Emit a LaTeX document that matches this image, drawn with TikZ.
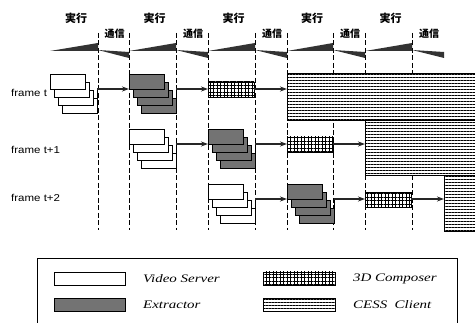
\documentclass[tikz,border=0pt]{standalone}
\usepackage{fontspec}
\setmainfont{Liberation Serif}
\setsansfont{Liberation Sans}
\newfontfamily\jpfont{Noto Sans CJK JP}
\newfontfamily\legfont{Liberation Serif}[FakeStretch=1.3]
\newfontfamily\rowfont{Liberation Sans}[FakeStretch=1.15]
\usetikzlibrary{arrows.meta,positioning,patterns.meta}

\begin{document}
\begin{tikzpicture}[x=1pt,y=-1pt,
    vsbox/.style={draw,fill=white,line width=0.6pt,minimum width=35pt,minimum height=15pt,inner sep=0pt,outer sep=0pt,anchor=north west},
    exbox/.style={vsbox,fill=black!55},
    cpbox/.style={draw,line width=0.6pt,preaction={fill=white},pattern={Hatch[angle=0,distance=3.5pt,line width=0.5pt]},minimum width=46pt,minimum height=15pt,inner sep=0pt,outer sep=0pt,anchor=west},
    csbox/.style={draw,line width=0.6pt,preaction={fill=white},pattern={Lines[angle=0,distance=3pt,line width=0.9pt]},inner sep=0pt,outer sep=0pt,anchor=north west},
    flow/.style={line width=1.3pt,black!85,-{Stealth[length=7pt,width=5pt]}},
    phase/.style={dash pattern=on 5pt off 2.5pt,line width=0.7pt},
    wedge/.style={fill=black!80},
    rowlab/.style={font=\rowfont\fontsize{10}{12}\selectfont,inner sep=0pt,anchor=west},
    legtext/.style={font=\legfont\itshape\fontsize{11.5}{13}\selectfont,inner sep=0pt,anchor=west}]
  \useasboundingbox (0,0) rectangle (475,323);

  % phase boundaries
  \foreach \x in {98,129,176,208,255,287,333,365,412}
    \draw[phase] (\x,33) -- (\x,230);

  % execution / communication wedges
  \foreach \s/\e/\c in {50/98/129,129/176/208,208/255/287,287/333/365,365/412/444}{
    \fill[wedge] (\s,51) -- (\e,43) -- (\e,51) -- cycle;
    \fill[wedge] (\e,50) -- (\c,52) -- (\c,58) -- cycle;
    \node[font=\jpfont\bfseries\fontsize{11}{13}\selectfont,inner sep=0pt] (run\s) at ({(\s+\e)/2+2},18) {実行};
    \node[font=\jpfont\bfseries\fontsize{10}{12}\selectfont,inner sep=0pt] (comm\s) at ({(\e+\c)/2+1},34) {通信};
  }

  % CESS client blocks
  \node[csbox,minimum width=191pt,minimum height=47pt] (cs0) at (287,73) {};
  \node[csbox,minimum width=113pt,minimum height=55pt] (cs1) at (365,120) {};
  \node[csbox,minimum width=34pt,minimum height=56pt] (cs2) at (444,175) {};

  % one frame per row
  \foreach \r/\sa/\sb/\sc in {0/50/129/208,1/129/208/287,2/208/287/365}{
    \pgfmathsetmacro\rowy{74+55*\r}
    \foreach \k in {3,2,1,0}
      \node[vsbox] (vs\r-\k) at (\sa+4*\k,\rowy+8*\k) {};
    \foreach \k in {3,2,1,0}
      \node[exbox] (ex\r-\k) at (\sb+4*\k,\rowy+8*\k) {};
    \node[cpbox] (cp\r) at (\sc,\rowy+15.5) {};
    \draw[line width=0.6pt] (vs\r-3.north east) -- (vs\r-0.south -| vs\r-3.east);
    \draw[line width=0.6pt] (ex\r-3.north east) -- (ex\r-0.south -| ex\r-3.east);
    \draw[flow] (vs\r-0.south -| vs\r-3.east) -- (ex\r-0.south west);
    \draw[flow] (ex\r-0.south -| ex\r-3.east) -- (cp\r.west |- ex\r-0.south);
    \draw[flow] (cp\r.east |- ex\r-0.south) -- (cs\r.west |- ex\r-0.south);
  }

  \node[rowlab] (lt0) at (11,93) {frame t};
  \node[rowlab] (lt1) at (11,150) {frame t+1};
  \node[rowlab] (lt2) at (11,198) {frame t+2};

  % legend
  \node[draw,line width=0.8pt,minimum width=420pt,minimum height=72pt,inner sep=0pt,anchor=north west] (legend) at (37,258) {};
  \node[vsbox,minimum width=71pt,minimum height=13pt] (kvs) at (54,272) {};
  \node[exbox,minimum width=71pt,minimum height=13pt] (kex) at (54,298) {};
  \node[cpbox,minimum width=72pt,minimum height=13pt,anchor=north west] (kcp) at (263,272) {};
  \node[csbox,minimum width=72pt,minimum height=13pt] (kcs) at (263,298) {};
  \node[legtext] (tvs) at (143,279) {Video Server};
  \node[legtext] (tex) at (143,305) {Extractor};
  \node[legtext] (tcp) at (353,279) {3D Composer};
  \node[legtext] (tcs) at (353,305) {CESS~ Client};
\end{tikzpicture}
\end{document}
